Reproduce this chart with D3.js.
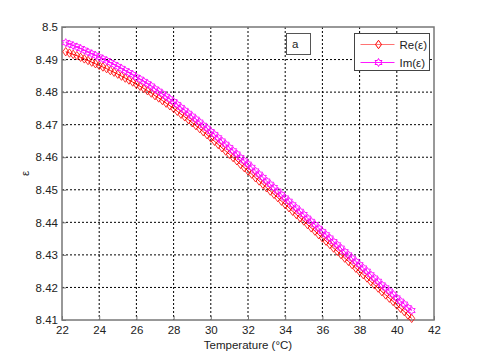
<!DOCTYPE html>
<html>
<head>
<meta charset="utf-8">
<script src="https://cdn.jsdelivr.net/npm/d3@7"></script>
<style>
  body { margin: 0; background: #fff; }
  text { font-family: "Liberation Sans", Arial, sans-serif; }
  .axis text { font-size: 11.5px; fill: #222; }
</style>
</head>
<body>
<div id="chart"></div>
<script>
// temperatures (°C)
var temps = [22.2,22.4,22.6,22.8,23.0,23.2,23.4,23.6,23.8,24.0,
  24.2,24.4,24.6,24.8,25.0,25.2,25.4,25.6,25.8,26.0,
  26.2,26.4,26.6,26.8,27.0,27.2,27.4,27.6,27.8,28.0,
  28.2,28.4,28.6,28.8,29.0,29.2,29.4,29.6,29.8,30.0,
  30.2,30.4,30.6,30.8,31.0,31.2,31.4,31.6,31.8,32.0,
  32.2,32.4,32.6,32.8,33.0,33.2,33.4,33.6,33.8,34.0,
  34.2,34.4,34.6,34.8,35.0,35.2,35.4,35.6,35.8,36.0,
  36.2,36.4,36.6,36.8,37.0,37.2,37.4,37.6,37.8,38.0,
  38.2,38.4,38.6,38.8,39.0,39.2,39.4,39.6,39.8,40.0,
  40.2,40.4,40.6,40.8];

var reEps = [8.4924,8.4920,8.4916,8.4912,8.4907,8.4902,8.4897,8.4892,8.4887,8.4882,
  8.4877,8.4872,8.4866,8.4861,8.4855,8.4849,8.4843,8.4837,8.4831,8.4824,
  8.4818,8.4811,8.4804,8.4797,8.4789,8.4782,8.4774,8.4766,8.4758,8.4750,
  8.4741,8.4732,8.4724,8.4715,8.4706,8.4697,8.4688,8.4678,8.4669,8.4659,
  8.4649,8.4639,8.4629,8.4619,8.4609,8.4599,8.4589,8.4578,8.4568,8.4558,
  8.4548,8.4537,8.4527,8.4517,8.4506,8.4496,8.4486,8.4476,8.4465,8.4455,
  8.4445,8.4434,8.4424,8.4414,8.4404,8.4393,8.4383,8.4373,8.4362,8.4352,
  8.4342,8.4332,8.4321,8.4311,8.4301,8.4290,8.4280,8.4270,8.4259,8.4249,
  8.4239,8.4229,8.4218,8.4208,8.4198,8.4187,8.4177,8.4167,8.4157,8.4146,
  8.4136,8.4126,8.4115,8.4105];

var imEps = [8.4952,8.4948,8.4943,8.4939,8.4934,8.4929,8.4923,8.4918,8.4913,8.4908,
  8.4902,8.4897,8.4891,8.4885,8.4879,8.4873,8.4866,8.4860,8.4854,8.4846,
  8.4840,8.4833,8.4826,8.4819,8.4810,8.4803,8.4795,8.4787,8.4779,8.4771,
  8.4762,8.4753,8.4744,8.4735,8.4726,8.4717,8.4708,8.4698,8.4689,8.4679,
  8.4670,8.4660,8.4650,8.4640,8.4630,8.4620,8.4610,8.4599,8.4589,8.4579,
  8.4569,8.4558,8.4548,8.4538,8.4527,8.4517,8.4507,8.4496,8.4485,8.4475,
  8.4465,8.4454,8.4444,8.4434,8.4424,8.4413,8.4403,8.4393,8.4382,8.4372,
  8.4362,8.4352,8.4341,8.4331,8.4321,8.4310,8.4300,8.4290,8.4280,8.4270,
  8.4260,8.4250,8.4239,8.4229,8.4219,8.4208,8.4199,8.4189,8.4179,8.4168,
  8.4158,8.4149,8.4138,8.4129];

var xTicks = [22,24,26,28,30,32,34,36,38,40,42];
var yTicks = [8.41,8.42,8.43,8.44,8.45,8.46,8.47,8.48,8.49,8.5];
var seriesNames = ["Re(\u03b5)", "Im(\u03b5)"];

var W = 480, H = 360;
var margin = {top: 27, right: 46, bottom: 40, left: 62};
var width = W - margin.left - margin.right;
var height = H - margin.top - margin.bottom;

var reColor = "#ff0000", imColor = "#ff00ff";

var svg = d3.select("#chart").append("svg")
  .attr("width", W).attr("height", H)
  .style("background", "#fff");

var g = svg.append("g")
  .attr("transform", "translate(" + margin.left + "," + margin.top + ")");

var x = d3.scaleLinear().domain([22, 42]).range([0, width]);
var y = d3.scaleLinear().domain([8.41, 8.5]).range([height, 0]);

// grid
g.selectAll(".vgrid").data(xTicks.slice(1, -1)).enter().append("line")
  .attr("x1", d => x(d)).attr("x2", d => x(d))
  .attr("y1", 0).attr("y2", height)
  .attr("stroke", "#000").attr("stroke-width", 1).attr("stroke-dasharray", "2,2");
g.selectAll(".hgrid").data(yTicks.slice(1, -1)).enter().append("line")
  .attr("x1", 0).attr("x2", width)
  .attr("y1", d => y(d)).attr("y2", d => y(d))
  .attr("stroke", "#000").attr("stroke-width", 1).attr("stroke-dasharray", "2,2");

// axes
var xAxis = g.append("g").attr("class", "axis")
  .attr("transform", "translate(0," + height + ")")
  .call(d3.axisBottom(x).tickValues(xTicks).tickSizeInner(-4).tickSizeOuter(0).tickPadding(6).tickFormat(d3.format("d")));
var yAxis = g.append("g").attr("class", "axis")
  .call(d3.axisLeft(y).tickValues(yTicks).tickSizeInner(-4).tickSizeOuter(0).tickPadding(4).tickFormat(d => d3.format("")(+d.toFixed(2))));
g.selectAll(".axis .domain").remove();
g.selectAll(".axis line").attr("stroke", "#777");

// frame
g.append("rect").attr("width", width).attr("height", height)
  .attr("fill", "none").attr("stroke", "#777").attr("stroke-width", 1.5);

// data
var reData = temps.map((t, i) => ({t: t, v: reEps[i]}));
var imData = temps.map((t, i) => ({t: t, v: imEps[i]}));

var line = d3.line().x(d => x(d.t)).y(d => y(d.v)).curve(d3.curveMonotoneX);

var diamond = "M0,-4.2L3,0L0,4.2L-3,0Z";
var hexagram = "M0,-4L1.1,-2L3.5,-2L2.2,0L3.5,2L1.1,2L0,4L-1.1,2L-3.5,2L-2.2,0L-3.5,-2L-1.1,-2Z";

g.append("path").datum(reData).attr("d", line)
  .attr("fill", "none").attr("stroke", reColor).attr("stroke-width", 1);
g.selectAll(".reDot").data(reData).enter().append("path")
  .attr("class", "reDot")
  .attr("d", diamond)
  .attr("transform", d => "translate(" + x(d.t) + "," + y(d.v) + ")")
  .attr("fill", "none").attr("stroke", reColor).attr("stroke-width", 1).attr("stroke-opacity", 0.8);

g.append("path").datum(imData).attr("d", line)
  .attr("fill", "none").attr("stroke", imColor).attr("stroke-width", 1);
g.selectAll(".imDot").data(imData).enter().append("path")
  .attr("class", "imDot")
  .attr("d", hexagram)
  .attr("transform", d => "translate(" + x(d.t) + "," + y(d.v) + ")")
  .attr("fill", "none").attr("stroke", imColor).attr("stroke-width", 1).attr("stroke-opacity", 0.85);

// "a" label box
svg.append("rect").attr("x", 286.5).attr("y", 33.5).attr("width", 24).attr("height", 21)
  .attr("fill", "#fff").attr("stroke", "#555").attr("stroke-width", 1);
svg.append("text").attr("x", 292).attr("y", 48).attr("font-size", 11.5).attr("fill", "#222").text("a");

// legend
var leg = svg.append("g").attr("transform", "translate(354.5,33.5)");
leg.append("rect").attr("width", 75).attr("height", 37)
  .attr("fill", "#fff").attr("stroke", "#444").attr("stroke-width", 1);
var legColors = [reColor, imColor];
var legShapes = [diamond, hexagram];
seriesNames.forEach(function(name, i){
  var ly = 11 + i * 18;
  leg.append("line").attr("x1", 6).attr("x2", 40).attr("y1", ly).attr("y2", ly)
    .attr("stroke", legColors[i]).attr("stroke-opacity", i == 0 ? 0.55 : 0.9);
  leg.append("path").attr("d", legShapes[i])
    .attr("transform", "translate(24," + ly + ")")
    .attr("fill", "none").attr("stroke", legColors[i]);
  leg.append("text").attr("x", 45).attr("y", ly + 4)
    .attr("font-size", 11.5).attr("fill", "#222").text(name);
});

// axis labels
svg.append("text").attr("x", margin.left + width / 2).attr("y", 349)
  .attr("text-anchor", "middle").attr("font-size", 11.5).attr("fill", "#222")
  .text("Temperature (\u00b0C)");
svg.append("text").attr("transform", "translate(29," + (margin.top + height / 2) + ") rotate(-90)")
  .attr("text-anchor", "middle").attr("font-size", 11.5).attr("fill", "#222")
  .text("\u03b5");
</script>
</body>
</html>
